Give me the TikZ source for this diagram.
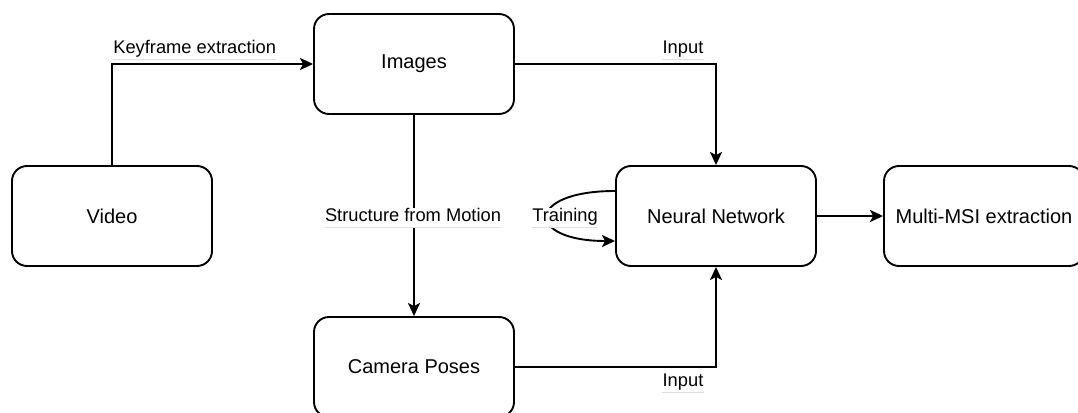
\documentclass[tikz,border=0pt]{standalone}
\usepackage{fontspec}
\setmainfont{Liberation Sans}
\usetikzlibrary{arrows.meta,calc}

\tikzset{
  x=1pt, y=1pt,
  box/.style={draw, line width=1.9pt, rounded corners=15pt,
    minimum width=200pt, minimum height=100pt, inner sep=0pt,
    font=\fontsize{20}{24}\selectfont, fill=white},
  arr/.style={line width=1.9pt,
    -{Stealth[length=13pt,width=12pt,inset=3pt]}},
  lbl/.style={fill=white, inner xsep=0pt, inner ysep=0pt,
    text height=14pt, text depth=5pt, anchor=base,
    font=\fontsize{18.3}{22}\selectfont},
  uline/.style={draw=black!12, line width=0.8pt},
}

\newcommand{\underlabel}[1]{%
  \draw[uline] (#1.south west) -- (#1.south east);}

\begin{document}
\begin{tikzpicture}
\useasboundingbox (0,0) rectangle (1078,-412);
\clip (0,0) rectangle (1078,-412);

% process boxes
\node[box] (video)  at (112,-216) {Video};
\node[box] (images) at (414,-64)  {Images};
\node[box] (nn)     at (716,-216) {Neural Network};
\node[box] (camera) at (414,-367) {Camera Poses};
\node[box] (multi)  at (984,-216) {Multi-MSI extraction};

% connectors
\draw[arr] (video.north) |- (images.west);
\draw[arr] (images.east) -| (nn.north);
\draw[arr] (images.south) -- (camera.north);
\draw[arr] (camera.east) -| (nn.south);
\draw[arr] (nn.east) -- (multi.west);
\draw[arr] ($(nn.west)+(0,25)$) .. controls ($(nn.west)+(-90,25)$)
  and ($(nn.west)+(-90,-25)$) .. ($(nn.west)+(0,-25)$);

% edge labels
\node[lbl] (lkey)   at (194.7,-54)   {Keyframe extraction};
\node[lbl] (linup)  at (683,-54)     {Input};
\node[lbl] (lsfm)   at (413,-221.7)  {Structure from Motion};
\node[lbl] (ltrain) at (565,-221.7)  {Training};
\node[lbl] (lindn)  at (683,-386.7)  {Input};
\underlabel{lkey}
\underlabel{linup}
\underlabel{lsfm}
\underlabel{ltrain}
\underlabel{lindn}
\end{tikzpicture}
\end{document}
